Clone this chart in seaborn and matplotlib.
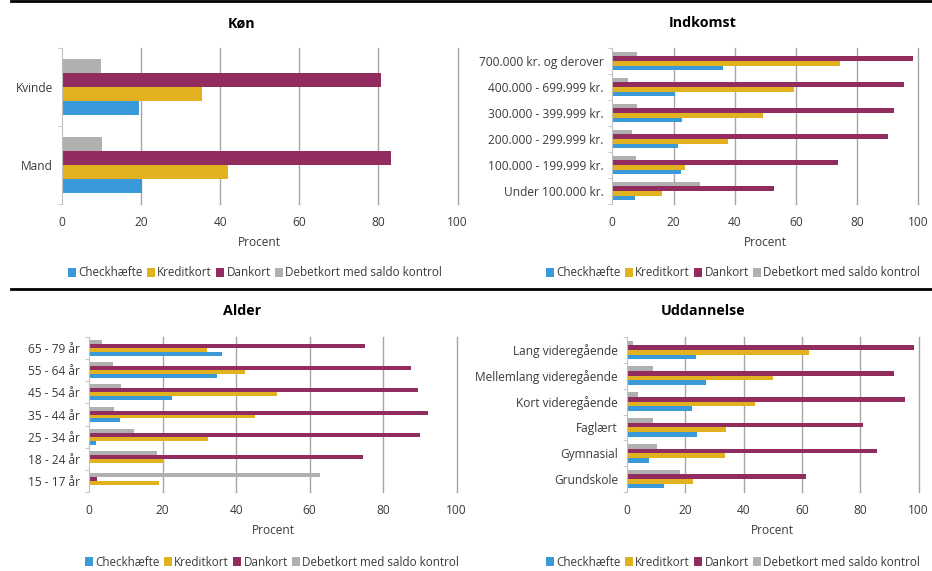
import numpy as np
import pandas as pd
import matplotlib.pyplot as plt
import seaborn as sns
from matplotlib.lines import Line2D
from matplotlib.patches import Patch

series = ["Checkhæfte", "Kreditkort", "Dankort", "Debetkort med saldo kontrol"]
colors = ["#3a9ad9", "#e2b120", "#922b5e", "#b0b0b0"]

# categories listed top to bottom, values per series
kon_cats = ["Kvinde", "Mand"]
kon_check = [19.5, 20.3]
kon_kredit = [35.5, 42.0]
kon_dankort = [80.7, 83.2]
kon_debet = [9.9, 10.2]

ind_cats = ["700.000 kr. og derover", "400.000 - 699.999 kr.", "300.000 - 399.999 kr.",
            "200.000 - 299.999 kr.", "100.000 - 199.999 kr.", "Under 100.000 kr."]
ind_check = [36.2, 20.5, 22.8, 21.5, 22.4, 7.4]
ind_kredit = [74.4, 59.4, 49.2, 37.8, 23.7, 16.2]
ind_dankort = [98.3, 95.3, 92.0, 90.1, 73.7, 52.8]
ind_debet = [8.1, 5.1, 8.1, 6.4, 7.7, 28.6]

alder_cats = ["65 - 79 år", "55 - 64 år", "45 - 54 år", "35 - 44 år",
              "25 - 34 år", "18 - 24 år", "15 - 17 år"]
alder_check = [36.1, 34.8, 22.5, 8.4, 1.9, 0.0, 0.0]
alder_kredit = [32.1, 42.4, 51.1, 45.1, 32.3, 20.4, 19.0]
alder_dankort = [75.1, 87.6, 89.5, 92.2, 90.0, 74.5, 2.1]
alder_debet = [3.5, 6.5, 8.7, 6.8, 12.2, 18.5, 62.8]

udd_cats = ["Lang videregående", "Mellemlang videregående", "Kort videregående",
            "Faglært", "Gymnasial", "Grundskole"]
udd_check = [23.7, 27.1, 22.3, 24.0, 7.5, 12.7]
udd_kredit = [62.4, 50.1, 43.9, 33.9, 33.6, 22.6]
udd_dankort = [98.4, 91.5, 95.3, 80.9, 85.7, 61.4]
udd_debet = [2.1, 8.9, 3.8, 8.9, 10.3, 18.2]

plt.rcParams['font.family'] = ['Open Sans', 'DejaVu Sans']
text_col = "#3a3a3a"
fs = 8.6

W, H = 932, 571
fig = plt.figure(figsize=(W / 100, H / 100), dpi=100)


def box(x0, x1, y0, y1):
    return [x0 / W, 1 - y1 / H, (x1 - x0) / W, (y1 - y0) / H]


def panel(rect, title, title_xy, cats, check, kredit, dank, debet, legend_xy):
    ax = fig.add_axes(box(*rect))
    df = pd.DataFrame({
        "cat": cats * 4,
        "series": sum([[s] * len(cats) for s in series], []),
        "value": check + kredit + dank + debet,
    })
    draw_order = series[::-1]
    pal = dict(zip(series, colors))
    sns.barplot(data=df, x="value", y="cat", hue="series", order=cats,
                hue_order=draw_order, palette=pal, width=0.72, saturation=1,
                linewidth=0, legend=False, ax=ax)
    n = len(cats)
    ax.set_xlim(0, 100)
    ax.set_ylim(n - 0.5, -0.5)
    ax.set_xticks(range(0, 101, 20))
    ax.set_xlabel("Procent", fontsize=fs, color=text_col, labelpad=5)
    ax.set_ylabel("")
    ax.grid(False)
    for v in range(20, 101, 20):
        ax.axvline(v, color="#a6a6a6", lw=1, zorder=0, clip_on=False)
    for s in ["top", "right", "bottom"]:
        ax.spines[s].set_visible(False)
    ax.spines["left"].set_color("#bfbfbf")
    ax.set_yticks(np.arange(-0.5, n, 1.0), minor=True)
    ax.tick_params(axis="y", which="major", length=0, pad=6.5, labelsize=fs, labelcolor=text_col)
    ax.tick_params(axis="y", which="minor", length=3, color="#bfbfbf")
    ax.tick_params(axis="x", length=0, pad=9, labelsize=fs, labelcolor=text_col)
    fig.text(title_xy[0] / W, 1 - title_xy[1] / H, title, ha="center", va="center",
             fontsize=10.3, fontweight="bold", color="black")
    handles = [Patch(facecolor=c, edgecolor="none") for c in colors]
    fig.legend(handles, series, loc="center", ncol=4, frameon=False,
               bbox_to_anchor=(legend_xy[0] / W, 1 - legend_xy[1] / H),
               fontsize=8.4, handlelength=0.7, handleheight=0.7, handletextpad=0.2,
               columnspacing=0.35, labelcolor=text_col)
    return ax


panel((62, 457.5, 48, 204), "Køn", (242, 23.5), kon_cats,
      kon_check, kon_kredit, kon_dankort, kon_debet, (255, 273))
panel((612.3, 918.3, 48, 204), "Indkomst", (703, 23), ind_cats,
      ind_check, ind_kredit, ind_dankort, ind_debet, (733, 273))
panel((89.2, 456.7, 337, 492), "Alder", (242, 311), alder_cats,
      alder_check, alder_kredit, alder_dankort, alder_debet, (272, 562))
panel((627, 918.7, 337, 492), "Uddannelse", (703, 311), udd_cats,
      udd_check, udd_kredit, udd_dankort, udd_debet, (733, 562))

for y in [1, 288.7]:
    fig.add_artist(Line2D([11 / W, 1], [1 - y / H, 1 - y / H], transform=fig.transFigure,
                          color="black", lw=2))

fig.savefig("out.png", dpi=100)
